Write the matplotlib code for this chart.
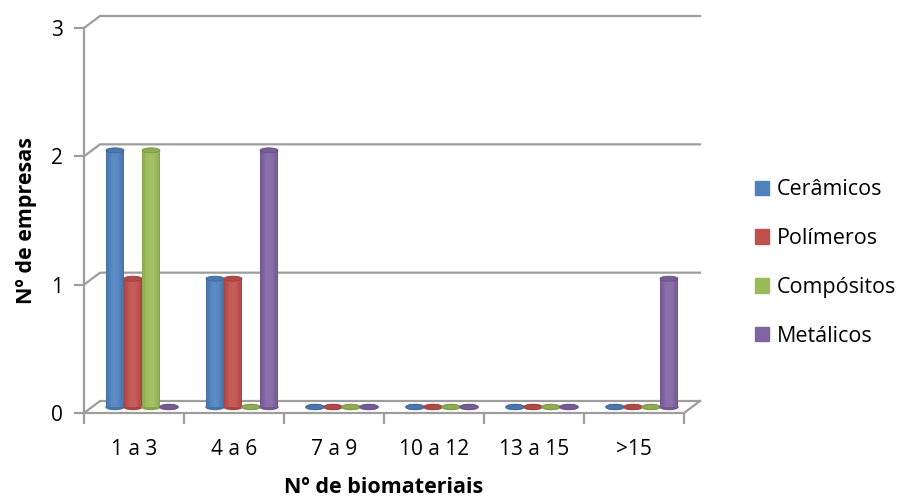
import numpy as np
import matplotlib.pyplot as plt
from matplotlib.patches import Ellipse, Patch

plt.rcParams['font.family'] = ['Open Sans', 'DejaVu Sans']

# number of biomaterials per company, by material class
categories = ['1 a 3', '4 a 6', '7 a 9', '10 a 12', '13 a 15', '>15']
series = ['Cerâmicos', 'Polímeros', 'Compósitos', 'Metálicos']
ceramicos = [2, 1, 0, 0, 0, 0]
polimeros = [1, 1, 0, 0, 0, 0]
compositos = [2, 0, 0, 0, 0, 0]
metalicos = [0, 2, 0, 0, 0, 1]
colors = ['#4F81BD', '#C0504D', '#9BBB59', '#8064A2']
yticks = [0, 1, 2, 3]

values = [ceramicos, polimeros, compositos, metalicos]

fig = plt.figure(figsize=(9.02, 4.99), dpi=100)
ax = fig.add_axes([84 / 902, 1 - 413 / 499, 600 / 902, 385 / 499])
ax.set_xlim(0, len(categories))
ax.set_ylim(0, 3)

# depth of the 3d box in data units (16px right, 12px up)
DX = 0.16
DY = 12 / (385 / 3)
grid_c = '#9d9d9d'

# back wall gridlines and the diagonals joining them to the front axis
for v in yticks:
    ax.plot([0, DX, len(categories) + DX], [v, v + DY, v + DY],
            color=grid_c, lw=1.6, clip_on=False, zorder=1)
# floor outline on the right
ax.plot([len(categories), len(categories) + DX], [0, DY],
        color=grid_c, lw=1.6, clip_on=False, zorder=1)

bar_w = 0.18
n_strips = 14
ell_h = 5 / (385 / 3)


def shade(color, f):
    c = np.array(plt.matplotlib.colors.to_rgb(color))
    if f < 1:
        return tuple(c * f)
    return tuple(c + (1 - c) * (f - 1))


for i, (vals, col) in enumerate(zip(values, colors)):
    for j, v in enumerate(vals):
        x0 = j + 0.5 - 2 * bar_w + i * bar_w + DX / 2
        base = DY / 2
        z = 3 + j * 0.1 + i * 0.01
        # rounded bottom of the cylinder
        ax.add_patch(Ellipse((x0 + bar_w / 2, base), bar_w, ell_h,
                             color=shade(col, 0.88), clip_on=False, zorder=z))
        if v > 0:
            edges = np.linspace(x0, x0 + bar_w, n_strips + 1)
            for k in range(n_strips):
                t = (k + 0.5) / n_strips
                f = 0.8 + 0.28 * np.sin(np.pi * t) ** 0.6
                ax.bar(edges[k], v, width=edges[k + 1] - edges[k] + 0.002,
                       bottom=base, align='edge', color=shade(col, f),
                       lw=0, clip_on=False, zorder=z)
        # cylinder top
        ax.add_patch(Ellipse((x0 + bar_w / 2, base + v), bar_w, ell_h,
                             facecolor=shade(col, 0.92),
                             edgecolor=shade(col, 0.8), lw=0.6,
                             clip_on=False, zorder=z + 0.001))

for s in ['top', 'right']:
    ax.spines[s].set_visible(False)
for s in ['left', 'bottom']:
    ax.spines[s].set_color(grid_c)
    ax.spines[s].set_linewidth(1.6)
    ax.spines[s].set_zorder(2)

ax.set_yticks(yticks)
ax.tick_params(axis='y', length=7, width=1.6, color=grid_c, labelsize=15,
               pad=8)
ax.set_xticks(range(len(categories) + 1))
ax.set_xticklabels([])
ax.set_xticks(np.arange(len(categories)) + 0.5, minor=True)
ax.set_xticklabels(categories, minor=True)
ax.tick_params(axis='x', which='major', length=8, width=1.6, color=grid_c)
ax.tick_params(axis='x', which='minor', length=0, labelsize=15, pad=19)

ax.set_ylabel('Nº de empresas', fontsize=15.5, fontweight='bold', labelpad=10)
ax.set_xlabel('Nº de biomateriais', fontsize=15.5, fontweight='bold',
              labelpad=12)

handles = [Patch(color=c) for c in colors]
fig.legend(handles, series, loc='center left',
           bbox_to_anchor=(755 / 902, 1 - 263 / 499), frameon=False,
           fontsize=15.5, handlelength=0.65, handleheight=0.65,
           handletextpad=0.35, labelspacing=1.29, borderpad=0,
           borderaxespad=0)

fig.savefig('out.png', dpi=100)
